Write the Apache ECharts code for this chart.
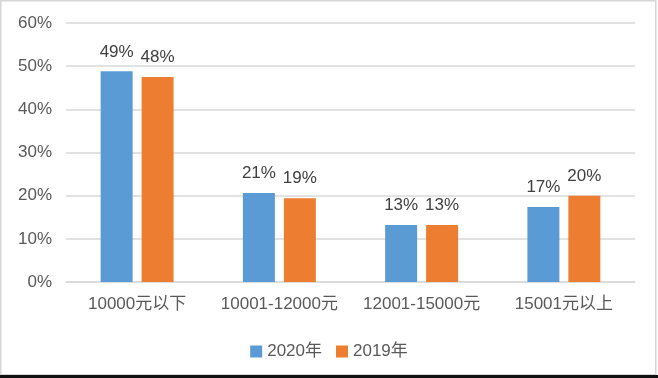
<!DOCTYPE html>
<html><head><meta charset="utf-8">
<script src="https://cdn.jsdelivr.net/npm/echarts@6/dist/echarts.min.js"></script>
<style>html,body{margin:0;padding:0;background:#fff}#c{width:658px;height:378px}</style>
</head><body><div id="c"></div>
<script>
const categories = ['10000元以下', '10001-12000元', '12001-15000元', '15001元以上'];
const seriesNames = ['2020年', '2019年'];
const values2020 = [48.8, 20.6, 13.2, 17.4];
const values2019 = [47.5, 19.4, 13.2, 20.0];
const labels2020 = ['49%', '21%', '13%', '17%'];
const labels2019 = ['48%', '19%', '13%', '20%'];
const yTicks = [0, 10, 20, 30, 40, 50, 60];

const FONT = '"Liberation Sans", "Noto Sans CJK SC", sans-serif';
const chart = echarts.init(document.getElementById('c'), null, {renderer: 'canvas'});
chart.setOption({
  animation: false,
  backgroundColor: '#fff',
  textStyle: {fontFamily: FONT},
  grid: {left: 66, right: 23, top: 23, bottom: 96},
  legend: {
    top: 338, left: 'center', itemWidth: 12, itemHeight: 12, itemGap: 14,
    icon: 'rect',
    textStyle: {fontSize: 17, color: '#595959', fontFamily: FONT},
    data: seriesNames
  },
  xAxis: {
    type: 'category', data: categories,
    axisLine: {show: true, lineStyle: {color: '#d9d9d9', width: 1.5}},
    axisTick: {show: false},
    axisLabel: {fontSize: 17, color: '#595959', margin: 14, interval: 0, hideOverlap: false, fontFamily: FONT}
  },
  yAxis: {
    type: 'value', min: yTicks[0], max: yTicks[yTicks.length - 1], interval: 10,
    axisLine: {show: false}, axisTick: {show: false},
    splitLine: {lineStyle: {color: '#d9d9d9', width: 1.5}},
    axisLabel: {fontSize: 17, color: '#595959', margin: 14, formatter: v => v + '%', fontFamily: FONT}
  },
  series: [
    {name: seriesNames[0], type: 'bar', data: values2020, barWidth: 32, barGap: '28%',
      itemStyle: {color: '#5b9bd5'},
      label: {show: true, position: 'top', distance: 11, fontSize: 17, color: '#404040', fontFamily: FONT,
        formatter: p => labels2020[p.dataIndex]}},
    {name: seriesNames[1], type: 'bar', data: values2019, barWidth: 32,
      itemStyle: {color: '#ed7d31'},
      label: {show: true, position: 'top', distance: 11, fontSize: 17, color: '#404040', fontFamily: FONT,
        formatter: p => labels2019[p.dataIndex]}}
  ],
  graphic: [
    {type: 'rect', shape: {x: 0.75, y: 0.75, width: 655, height: 374}, style: {fill: 'none', stroke: '#d6d6d6', lineWidth: 1.5}, silent: true},
    {type: 'rect', shape: {x: 0, y: 375, width: 658, height: 3}, style: {fill: '#111'}, silent: true}
  ]
});
</script></body></html>
